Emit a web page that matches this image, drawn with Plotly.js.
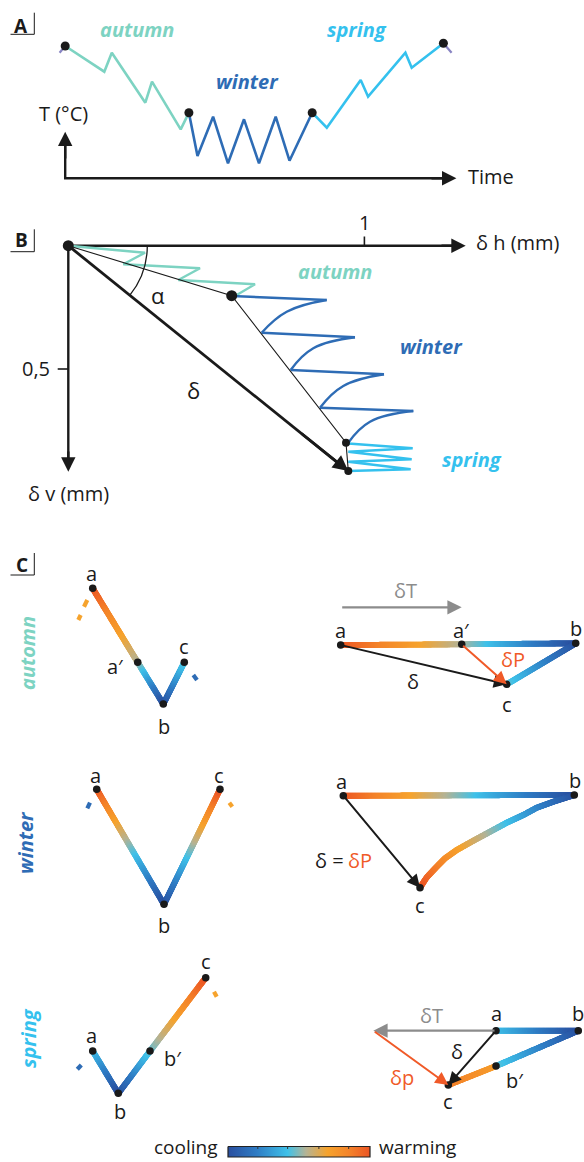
<!DOCTYPE html>
<html><head><meta charset="utf-8">
<script src="https://cdn.plot.ly/plotly-3.0.1.min.js"></script>
<style>html,body{margin:0;padding:0;background:#fff;}#chart{width:584px;height:1162px;}</style>
</head><body><div id="chart"></div>
<script>
// ---------- colours ----------
const TEAL = '#7dd3c2', WBLUE = '#2e6cb5', SCYAN = '#34c1ee', RED = '#f05a28', GREY = '#8c8c8c', INK = '#1a1a1a';
const TEMP_SCALE = [[0,'#2a4f9f'],[0.2,'#2f7cc4'],[0.42,'#3fc1e9'],[0.55,'#b5b394'],[0.7,'#f6a32d'],[0.85,'#f4842a'],[1,'#ec5525']];

// ---------- Panel A : temperature through the seasons ----------
const A_autumn_x = [65.2, 104.3, 111.8, 145.3, 152.0, 180.7, 188.9];
const A_autumn_y = [46.0, 71.7, 52.7, 102.7, 81.7, 129.3, 112.7];
const A_winter_x = [188.9, 197.5, 213.1, 228.0, 244.0, 259.0, 275.7, 289.5, 312.2];
const A_winter_y = [112.7, 156.0, 116.7, 163.3, 119.3, 163.3, 116.7, 160.7, 112.7];
const A_spring_x = [312.2, 326.8, 360.7, 368.1, 405.4, 411.7, 443.4];
const A_spring_y = [112.7, 127.7, 80.0, 96.7, 52.7, 67.7, 43.3];
const A_nodes_x = [65.2, 188.9, 312.2, 443.4];
const A_nodes_y = [46.0, 112.7, 112.7, 43.3];
const A_stub1_x = [59.6, 65.2], A_stub1_y = [52.7, 46.0];
const A_stub2_x = [443.4, 451.6], A_stub2_y = [43.3, 52.7];

// ---------- Panel B : displacement path ----------
const B_origin = [68.3, 245.7];
const B_autumn_x = [68.3, 145.0, 123.3, 200.0, 178.3, 255.0, 236.7];
const B_autumn_y = [245.7, 252.7, 264.3, 268.3, 280.0, 284.3, 295.0];
const B_wint_flat_x = [[231.7, 326.7], [261.7, 355.0], [290.7, 384.0], [320.0, 413.3]];
const B_wint_flat_y = [[296.0, 300.0], [332.7, 337.3], [370.0, 374.3], [407.7, 411.0]];
const B_wint_curve_x = [[326.7, 286.7, 261.7], [355.0, 313.3, 290.7], [384.0, 343.3, 320.0], [413.3, 370.0, 348.3]];
const B_wint_curve_y = [[300.0, 311.7, 332.7], [337.3, 348.3, 370.0], [374.3, 386.0, 407.7], [411.0, 421.7, 442.7]];
const B_spring_x = [348.3, 412.7, 348.3, 411.7, 348.3, 410.7, 348.3];
const B_spring_y = [443.5, 448.3, 451.7, 459.3, 461.7, 469.3, 471.0];
const B_chord_x = [68.3, 231.7, 346.0, 348.3];
const B_chord_y = [245.7, 295.7, 442.7, 471.0];
const B_end = [348.3, 471.0];

// ---------- Panel C : a-b-c cycles (t: 0 = cooling, 1 = warming) ----------
// autumn
const CAL_x = [92.7, 137.7, 163.3, 184.3], CAL_y = [588.3, 662.3, 704.0, 662.3], CAL_t = [1.0, 0.55, 0.0, 0.45];
const CAR_x = [340.7, 461.7, 575.7, 506.7], CAR_y = [645.0, 644.3, 643.3, 684.3], CAR_t = [1.0, 0.55, 0.0, 0.45];
// winter
const CWL_x = [96.7, 164.0, 220.0], CWL_y = [789.3, 904.3, 789.3], CWL_t = [1.0, 0.0, 1.0];
const CWR_ab_x = [343.3, 574.3], CWR_ab_y = [795.7, 795.0];
const CWR_bc_x = [574.3, 553.3, 536.7, 523.3, 506.7, 490.0, 473.3, 456.7, 445.0, 436.7, 426.7, 420.0];
const CWR_bc_y = [795.0, 801.7, 807.7, 815.0, 822.7, 831.7, 840.7, 850.0, 858.3, 866.7, 877.3, 887.7];
// spring
const CSL_x = [92.7, 118.3, 150.0, 205.7], CSL_y = [1051.0, 1093.3, 1051.0, 977.7], CSL_t = [0.42, 0.0, 0.45, 1.0];
const CSR_x = [496.0, 578.3, 496.0], CSR_y = [1030.7, 1030.7, 1066.0], CSR_t = [0.42, 0.0, 0.45];
const CSR2_x = [496.0, 448.3], CSR2_y = [1066.0, 1085.0], CSR2_t = [0.72, 0.86];

// small dashes (previous / next step)
const dashes = [
  {x:[87.3, 84.0], y:[600.0, 606.7], c:'#f6a32d'}, {x:[80.7, 78.3], y:[615.0, 620.0], c:'#f6a32d'},
  {x:[193.3, 197.0], y:[675.0, 680.0], c:'#2e6cb5'},
  {x:[90.0, 87.3], y:[802.7, 808.3], c:'#2e6cb5'}, {x:[229.3, 232.3], y:[802.7, 806.7], c:'#f6a32d'},
  {x:[81.3, 77.3], y:[1065.0, 1069.3], c:'#2e6cb5'}, {x:[214.0, 216.7], y:[991.7, 996.7], c:'#f6a32d'}
];

const C_dots_x = [92.7, 137.7, 163.3, 184.3, 340.7, 461.7, 575.7, 506.7, 96.7, 164.0, 220.0, 343.3, 574.3, 420.0, 92.7, 118.3, 150.0, 205.7, 496.0, 578.3, 496.0, 448.3];
const C_dots_y = [588.3, 662.3, 704.0, 662.3, 645.0, 644.3, 643.3, 684.3, 789.3, 904.3, 789.3, 795.7, 795.0, 887.7, 1051.0, 1093.3, 1051.0, 977.7, 1030.7, 1030.7, 1066.0, 1085.0];

// colour bar
const CB_x0 = 228, CB_x1 = 370, CB_y0 = 1146.5, CB_y1 = 1157;
const CB_ticks = [0.21, 0.42, 0.64, 0.85];

// ---------- helpers ----------
const traces = [];
const ann = [];
const shapes = [];
function line(x, y, color, width, shape) {
  traces.push({type:'scatter', mode:'lines', x:x, y:y, line:{color:color, width:width, shape:shape || 'linear', smoothing:1.2}, hoverinfo:'skip'});
}
function dots(x, y, size) {
  traces.push({type:'scatter', mode:'markers', x:x, y:y, marker:{color:INK, size:size}, hoverinfo:'skip'});
}
function gradStroke(xs, ys, t0, t1, w) {
  const L = [0];
  for (let i = 1; i < xs.length; i++) L.push(L[i-1] + Math.hypot(xs[i]-xs[i-1], ys[i]-ys[i-1]));
  const tot = L[L.length-1];
  const px = [], py = [], pc = [];
  for (let i = 0; i < xs.length-1; i++) {
    const seg = L[i+1]-L[i], n = Math.max(1, Math.ceil(seg/0.6));
    for (let k = 0; k < n; k++) {
      const f = k/n;
      px.push(xs[i] + (xs[i+1]-xs[i])*f); py.push(ys[i] + (ys[i+1]-ys[i])*f);
      pc.push(t0 + (t1-t0)*(L[i]+seg*f)/tot);
    }
  }
  px.push(xs[xs.length-1]); py.push(ys[ys.length-1]); pc.push(t1);
  traces.push({type:'scatter', mode:'markers', x:px, y:py, hoverinfo:'skip',
    marker:{size:w, color:pc, colorscale:TEMP_SCALE, cmin:0, cmax:1, line:{width:0}}});
}
function gradPath(xs, ys, ts, w) {
  for (let i = 0; i < xs.length-1; i++) gradStroke([xs[i], xs[i+1]], [ys[i], ys[i+1]], ts[i], ts[i+1], w);
}
function arrow(x0, y0, x1, y1, color, width, size) {
  ann.push({x:x1, y:y1, ax:x0, ay:y0, xref:'x', yref:'y', axref:'x', ayref:'y', text:'', showarrow:true,
    arrowhead:2, arrowsize:size, arrowwidth:width, arrowcolor:color, standoff:0, startstandoff:0});
}
const FONT = 'Open Sans, Noto Sans, sans-serif';
function txt(x, y, s, opt) {
  opt = opt || {};
  ann.push({x:x, y:y, xref:'x', yref:'y', text:s, showarrow:false, xanchor:opt.xa || 'center', yanchor:'middle',
    textangle:opt.rot || 0, borderpad:0,
    font:{family:FONT, size:opt.size || 20, color:opt.color || INK, weight:opt.weight || 'normal', style:opt.style || 'normal'}});
}
function season(x, y, s, color, rot) { txt(x, y, s, {color:color, weight:700, style:'italic', size:20, rot:rot}); }
function panelLabel(x, y, s, yTop, yBot) {
  txt(x, y, s, {weight:700, size:19});
  line([10.5, 34.3, 34.3], [yBot, yBot, yTop], INK, 1);
}

// ---------- Panel A ----------
panelLabel(21, 25.5, 'A', 12.7, 34.3);
line(A_stub1_x, A_stub1_y, '#8884c2', 2.2);
line(A_stub2_x, A_stub2_y, '#8884c2', 2.2);
line(A_autumn_x, A_autumn_y, TEAL, 2.6);
line(A_winter_x, A_winter_y, WBLUE, 2.6);
line(A_spring_x, A_spring_y, SCYAN, 2.6);
dots(A_nodes_x, A_nodes_y, 9);
line([65.2, 65.2, 450], [140, 178.3, 178.3], INK, 2.4);
arrow(65.2, 160, 65.2, 131.7, INK, 2.4, 1.2);
arrow(430, 178.3, 456.4, 178.3, INK, 2.4, 1.2);
txt(63.5, 113.3, 'T (°C)');
txt(467, 176, 'Time', {xa:'left'});
season(137.1, 29.3, 'autumn', TEAL);
season(247.8, 81.0, 'winter', WBLUE);
season(357.0, 29.3, 'spring', SCYAN);

// ---------- Panel B ----------
panelLabel(21.2, 240, 'B', 229.3, 251.7);
line([B_origin[0], 458], [B_origin[1], B_origin[1]], INK, 2.4);
line([B_origin[0], B_origin[0]], [B_origin[1], 464], INK, 2.4);
arrow(440, B_origin[1], 465.7, B_origin[1], INK, 2.4, 1.2);
arrow(B_origin[0], 450, B_origin[0], 471.7, INK, 2.4, 1.2);
line([364.4, 364.4], [236.5, 245.7], INK, 1.6);
line([57.7, 68.3], [369, 369], INK, 1.6);
txt(364.4, 222, '1');
txt(36, 368, '0,5');
txt(475, 242.7, 'δ h (mm)', {xa:'left'});
txt(68.9, 493.3, 'δ v (mm)');
line(B_autumn_x, B_autumn_y, TEAL, 2.4);
for (let i = 0; i < 4; i++) {
  line(B_wint_flat_x[i], B_wint_flat_y[i], WBLUE, 2.4);
  line(B_wint_curve_x[i], B_wint_curve_y[i], WBLUE, 2.4, 'spline');
}
line(B_spring_x, B_spring_y, SCYAN, 2.4);
line(B_chord_x, B_chord_y, INK, 1.1);
line([B_origin[0], 340], [B_origin[1], 464.6], INK, 2.8);
arrow(300, 432.3, B_end[0], B_end[1], INK, 2.8, 1.1);
shapes.push({type:'path', xref:'x', yref:'y', path:'M147.3,245.7 Q147.3,273.7 129.7,295.4', line:{color:INK, width:1.3}});
dots([B_origin[0], 231.7], [B_origin[1], 295.7], 11);
dots([346.0, B_end[0]], [442.7, B_end[1]], 8);
dots([B_origin[0]], [B_origin[1]], 9);
txt(158.3, 295, 'α', {size:22});
txt(193.7, 390, 'δ', {size:22});
season(334.6, 271, 'autumn', TEAL);
season(431.4, 346.7, 'winter', WBLUE);
season(472.4, 459.3, 'spring', SCYAN);

// ---------- Panel C ----------
panelLabel(21.7, 564.5, 'C', 553, 575);
season(27, 653, 'automn', TEAL, -90);
season(25, 843, 'winter', WBLUE, -90);
season(28, 1038, 'spring', SCYAN, -90);

dashes.forEach(d => line(d.x, d.y, d.c, 4.2));

// autumn
gradPath(CAL_x, CAL_y, CAL_t, 5.8);
arrow(340.7, 607.3, 461.7, 607.3, GREY, 2.2, 1.3);
gradPath(CAR_x, CAR_y, CAR_t, 5.8);
arrow(340.7, 645.0, 506.7, 684.3, INK, 2, 1.3);
arrow(461.7, 644.3, 506.7, 684.3, RED, 2, 1.3);
// winter
gradPath(CWL_x, CWL_y, CWL_t, 5.8);
gradStroke(CWR_ab_x, CWR_ab_y, 1.0, 0.0, 5.8);
gradStroke(CWR_bc_x, CWR_bc_y, 0.0, 1.0, 5.8);
arrow(343.3, 795.7, 420.0, 887.7, INK, 2, 1.3);
// spring
gradPath(CSL_x, CSL_y, CSL_t, 5.8);
gradPath(CSR_x, CSR_y, CSR_t, 5.8);
gradPath(CSR2_x, CSR2_y, CSR2_t, 5.8);
arrow(496.0, 1030.7, 373.3, 1030.7, GREY, 2.2, 1.3);
arrow(373.3, 1030.7, 448.3, 1085.0, RED, 2, 1.3);
arrow(496.0, 1030.7, 448.3, 1085.0, INK, 2, 1.3);
dots(C_dots_x, C_dots_y, 7.5);

// C labels
txt(91.3, 573.3, 'a'); txt(115, 666.7, 'a′'); txt(184, 646, 'c'); txt(164, 726.7, 'b');
txt(405, 590, 'δT', {color:GREY}); txt(340, 630, 'a'); txt(461.7, 630, 'a′'); txt(575.7, 628, 'b');
txt(412.7, 681.7, 'δ'); txt(513, 659.3, 'δP', {color:RED}); txt(507, 704, 'c');
txt(95.7, 775, 'a'); txt(219, 775, 'c'); txt(164, 925, 'b');
txt(341, 781.7, 'a'); txt(575, 780, 'b'); txt(420, 905, 'c');
txt(345, 860, 'δ =', {xa:'right'}); txt(347, 860, 'δP', {xa:'left', color:RED});
txt(91.7, 1035, 'a'); txt(173, 1058, 'b′'); txt(205.7, 961.7, 'c'); txt(119.5, 1111, 'b');
txt(431.7, 1015, 'δT', {color:GREY}); txt(496, 1013.3, 'a'); txt(578.3, 1013, 'b');
txt(456.7, 1051.7, 'δ'); txt(401.7, 1077.3, 'δp', {color:RED}); txt(515, 1080, 'b′'); txt(448.3, 1101.7, 'c');

// colour bar
traces.push({type:'scatter', mode:'lines', x:[CB_x0, CB_x1, CB_x1, CB_x0, CB_x0], y:[CB_y0, CB_y0, CB_y1, CB_y1, CB_y0],
  fill:'toself', line:{color:'#222', width:1.2}, hoverinfo:'skip',
  fillgradient:{type:'horizontal', colorscale:TEMP_SCALE, start:CB_x0, stop:CB_x1}});
CB_ticks.forEach(f => line([CB_x0 + f*(CB_x1-CB_x0), CB_x0 + f*(CB_x1-CB_x0)], [CB_y0, CB_y0 + 2.5], '#333', 1));
txt(219, 1147, 'cooling', {xa:'right', size:19});
txt(378, 1147, 'warming', {xa:'left', size:19});

const layout = {
  width:584, height:1162, margin:{l:0, r:0, t:0, b:0}, showlegend:false,
  paper_bgcolor:'#fff', plot_bgcolor:'#fff',
  xaxis:{range:[0,584], visible:false, fixedrange:true},
  yaxis:{range:[1162,0], visible:false, fixedrange:true},
  annotations:ann, shapes:shapes, hovermode:false
};
Plotly.newPlot('chart', traces, layout, {displayModeBar:false, staticPlot:true});
</script></body></html>
